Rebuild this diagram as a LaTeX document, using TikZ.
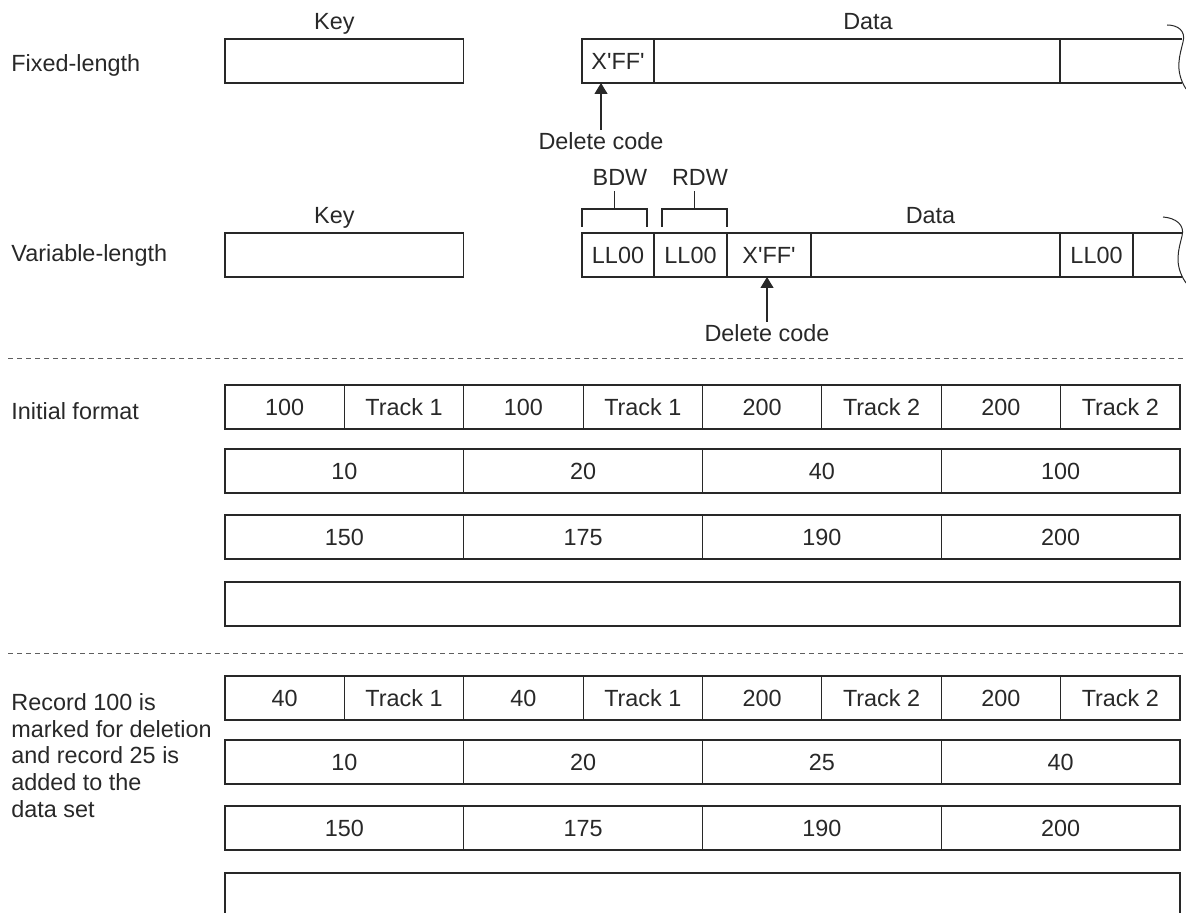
\documentclass[tikz,border=0pt]{standalone}
\usepackage{fontspec}
\setmainfont{Liberation Sans}[Ligatures=TeXOff]
\usepackage{tikz}
\usetikzlibrary{positioning,arrows.meta}
\definecolor{inkgray}{RGB}{40,40,40}

\begin{document}
\begin{tikzpicture}[
    x=0.5pt, y=-0.5pt,
    font=\fontsize{11.7}{13.35}\selectfont,
    text=inkgray,
    box/.style={draw=inkgray, line width=0.6pt, rectangle, minimum height=22pt, inner sep=0pt, outer sep=0pt, text height=8.4pt, text depth=0pt},
    narrow/.style={box, minimum width=59.6875pt},
    wide/.style={box, minimum width=119.375pt},
    full/.style={box, minimum width=477.5pt},
    lbl/.style={inner sep=0pt, text height=8.4pt, text depth=2.4pt},
    tag/.style={inner sep=0pt, anchor=base west, align=left},
    line/.style={draw=inkgray, line width=0.6pt},
    pointer/.style={line, -{Triangle[length=5.5pt, width=6.5pt]}, shorten <=1.5pt},
    breakline/.style={draw=inkgray, line width=0.5pt},
    divider/.style={draw=inkgray!75, line width=0.5pt, dash pattern=on 2.5pt off 2pt}
]
    \useasboundingbox (0,0) rectangle (1186,913);

    % Fixed-length record
    \node[tag] (fixL) at (11,72) {Fixed-length};
    \node[wide, anchor=north west] (keyF) at (225,39) {};
    \node[lbl, above=2.3pt of keyF, xshift=-5pt] (keyFL) {Key};
    \node[box, minimum width=36pt, anchor=north west] (xffF) at (582,39) {X'FF'};
    \node[box, minimum width=203pt, right=0pt of xffF] (midF) {};
    \node[box, draw=none, minimum width=61pt, right=0pt of midF] (tailF) {};
    \node[lbl, above=2.3pt of midF, xshift=5.5pt] (dataF) {Data};
    \node[lbl] (delF) at (601,144) {Delete code};

    % Variable-length record
    \node[tag] (varL) at (11,262) {Variable-length};
    \node[wide, anchor=north west] (keyV) at (225,233) {};
    \node[lbl, above=2.3pt of keyV, xshift=-5pt] (keyVL) {Key};
    \node[box, minimum width=36pt, anchor=north west] (llA) at (582,233) {LL00};
    \node[box, minimum width=36.5pt, right=0pt of llA] (llB) {LL00};
    \node[box, minimum width=42pt, right=0pt of llB] (xffV) {X'FF'};
    \node[box, minimum width=124.5pt, right=0pt of xffV] (midV) {};
    \node[box, minimum width=36.5pt, right=0pt of midV] (llC) {LL00};
    \node[box, draw=none, minimum width=24.5pt, right=0pt of llC] (tailV) {};
    \node[lbl, above=2.3pt of midV, xshift=-2.5pt] (dataV) {Data};
    \node[lbl, anchor=south] (bdw) at (620,191) {BDW};
    \node[lbl, anchor=south] (rdw) at (700,191) {RDW};
    \node[lbl] (delV) at (767,336) {Delete code};

    % Open ends
    \draw[line] (tailF.north west) -- (tailF.north east);
    \draw[line] (tailF.south west) -- (tailF.south east);
    \draw[breakline, shift={(tailF.north east)}] (-15,-14) .. controls (-4,-14) and (4,-8) .. (1,3) .. controls (-2,16) and (-8,31) .. (4,50);
    \draw[line] (tailV.north west) -- (tailV.north east);
    \draw[line] (tailV.south west) -- (tailV.south east);
    \draw[breakline, shift={(tailV.north east)}] (-19,-16) .. controls (-6,-15) and (3,-8) .. (0,3) .. controls (-3,16) and (-9,31) .. (4,50);

    % Brackets
    \draw[line] ([yshift=3pt]llA.north west) |- ([xshift=-3.5pt, yshift=12pt]llA.north east) coordinate[pos=0.75] (bdwC) -- ([xshift=-3.5pt, yshift=3pt]llA.north east);
    \draw[line] ([xshift=4pt, yshift=3pt]llB.north west) |- ([yshift=12pt]llB.north east) coordinate[pos=0.75] (rdwC) -- ([yshift=3pt]llB.north east);
    \draw[line] (bdwC) -- (bdwC |- bdw.south);
    \draw[line] (rdwC) -- (rdwC |- rdw.south);

    % Delete codes
    \draw[pointer] (delF) -- (delF |- xffF.south);
    \draw[pointer] (delV) -- (delV |- xffV.south);

    \draw[divider] (8,359) -- (1186,359);

    % Initial format
    \node[tag] (initL) at (11,420) {Initial format};
    \node[narrow, anchor=north west] (a1) at (225,385) {100};
    \node[narrow, right=0pt of a1] (a2) {Track 1};
    \node[narrow, right=0pt of a2] (a3) {100};
    \node[narrow, right=0pt of a3] (a4) {Track 1};
    \node[narrow, right=0pt of a4] (a5) {200};
    \node[narrow, right=0pt of a5] (a6) {Track 2};
    \node[narrow, right=0pt of a6] (a7) {200};
    \node[narrow, right=0pt of a7] (a8) {Track 2};
    \node[wide, anchor=north west] (b1) at (225,449) {10};
    \node[wide, right=0pt of b1] (b2) {20};
    \node[wide, right=0pt of b2] (b3) {40};
    \node[wide, right=0pt of b3] (b4) {100};
    \node[wide, anchor=north west] (c1) at (225,515) {150};
    \node[wide, right=0pt of c1] (c2) {175};
    \node[wide, right=0pt of c2] (c3) {190};
    \node[wide, right=0pt of c3] (c4) {200};
    \node[full, anchor=north west] (d1) at (225,582) {};

    \draw[divider] (8,653) -- (1186,653);

    % After deletion and insertion
    \node[tag, anchor=north west] (recL) at (11,693) {Record 100 is\\marked for deletion\\and record 25 is\\added to the\\data set};
    \node[narrow, anchor=north west] (e1) at (225,676) {40};
    \node[narrow, right=0pt of e1] (e2) {Track 1};
    \node[narrow, right=0pt of e2] (e3) {40};
    \node[narrow, right=0pt of e3] (e4) {Track 1};
    \node[narrow, right=0pt of e4] (e5) {200};
    \node[narrow, right=0pt of e5] (e6) {Track 2};
    \node[narrow, right=0pt of e6] (e7) {200};
    \node[narrow, right=0pt of e7] (e8) {Track 2};
    \node[wide, anchor=north west] (f1) at (225,740) {10};
    \node[wide, right=0pt of f1] (f2) {20};
    \node[wide, right=0pt of f2] (f3) {25};
    \node[wide, right=0pt of f3] (f4) {40};
    \node[wide, anchor=north west] (g1) at (225,806) {150};
    \node[wide, right=0pt of g1] (g2) {175};
    \node[wide, right=0pt of g2] (g3) {190};
    \node[wide, right=0pt of g3] (g4) {200};
    \node[full, anchor=north west] (h1) at (225,873) {};
\end{tikzpicture}
\end{document}
